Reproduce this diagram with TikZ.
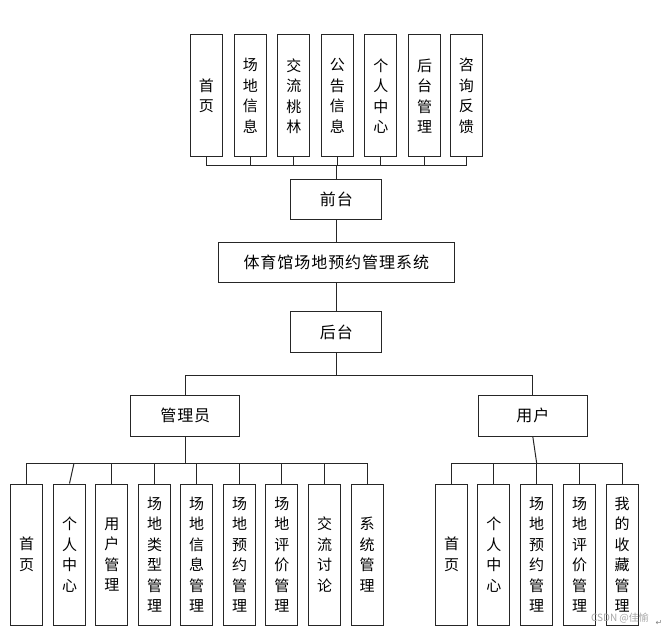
\documentclass[tikz,border=0pt]{standalone}
\usepackage{fontspec}
\newfontfamily\cjk{Noto Sans CJK SC}
\newfontfamily\cjkwide[LetterSpace=6]{Noto Sans CJK SC}
\newfontfamily\symfont{DejaVu Sans}
\begin{document}
\begin{tikzpicture}[x=1pt,y=-1pt,
  every node/.style={font=\cjk\fontsize{15}{20.5}\selectfont},
  boxline/.style={draw=black!85,line width=1pt},
  vbox/.style={boxline,rectangle,minimum width=32pt,inner sep=0pt,align=center},
  topbox/.style={vbox,minimum height=122pt},
  botbox/.style={vbox,minimum height=141pt},
  hbox/.style={boxline,rectangle,inner sep=0pt,minimum height=40.5pt,font=\cjkwide\fontsize{16}{20}\selectfont},
  conn/.style={draw=black!85,line width=1pt}]
\useasboundingbox (0,0) rectangle (669,631);
% top row
\node[topbox] (t1) at (206.3,96) {首\\页};
\node[topbox] (t2) at (250.3,96) {场\\地\\信\\息};
\node[topbox] (t3) at (293.8,96) {交\\流\\桃\\林};
\node[topbox] (t4) at (337.3,96) {公\\告\\信\\息};
\node[topbox] (t5) at (380.8,96) {个\\人\\中\\心};
\node[topbox] (t6) at (424.5,96) {后\\台\\管\\理};
\node[topbox] (t7) at (466.3,96) {咨\\询\\反\\馈};
\node[hbox,minimum width=90.7pt] (front) at (336.3,199.7) {前台};
\node[hbox,minimum width=236pt,minimum height=40pt] (main) at (336.3,262.7) {体育馆场地预约管理系统};
\node[hbox,minimum width=91pt,minimum height=41pt] (back) at (336.3,332.2) {后台};
\node[hbox,minimum width=109.3pt] (admin) at (185.3,415.8) {管理员};
\node[hbox,minimum width=109pt] (user) at (532.8,415.8) {用户};
% admin row
\node[botbox] (a1) at (26.7,554.5) {首\\页};
\node[botbox] (a2) at (69.5,554.5) {个\\人\\中\\心};
\node[botbox] (a3) at (111.8,554.5) {用\\户\\管\\理};
\node[botbox] (a4) at (154.5,554.5) {场\\地\\类\\型\\管\\理};
\node[botbox] (a5) at (196.7,554.5) {场\\地\\信\\息\\管\\理};
\node[botbox] (a6) at (239.5,554.5) {场\\地\\预\\约\\管\\理};
\node[botbox] (a7) at (281.8,554.5) {场\\地\\评\\价\\管\\理};
\node[botbox] (a8) at (324.5,554.5) {交\\流\\讨\\论};
\node[botbox] (a9) at (367.2,554.5) {系\\统\\管\\理};
% user row
\node[botbox] (u1) at (451.7,554.5) {首\\页};
\node[botbox] (u2) at (493.8,554.5) {个\\人\\中\\心};
\node[botbox] (u3) at (536.7,554.5) {场\\地\\预\\约\\管\\理};
\node[botbox] (u4) at (579.5,554.5) {场\\地\\评\\价\\管\\理};
\node[botbox] (u5) at (622,554.5) {我\\的\\收\\藏\\管\\理};
% bus coordinates
\coordinate (tb) at (336.3,166);
\coordinate (bb) at (336.3,375.3);
\coordinate (ab) at (185.3,463.3);
\coordinate (ub) at (536.7,463.3);
\coordinate (a2top) at (74,463.3);
% top connectors
\foreach \n in {t1,t2,t3,t4,t5,t6,t7}{
  \draw[conn] (\n.south) -- (\n.south |- tb);
}
\draw[conn] (t1.south |- tb) -- (t7.south |- tb);
\draw[conn] (tb) -- (front.north);
\draw[conn] (front.south) -- (main.north);
\draw[conn] (main.south) -- (back.north);
\draw[conn] (back.south) -- (bb);
\draw[conn] (admin.north) |- (bb) -| (user.north);
% admin connectors
\draw[conn] (admin.south) -- (ab);
\draw[conn] (a1.north |- ab) -- (a9.north |- ab);
\foreach \n in {a1,a3,a4,a5,a6,a7,a8,a9}{
  \draw[conn] (\n.north) -- (\n.north |- ab);
}
\draw[conn] (a2.north) -- (a2top);
% user connectors
\draw[conn] (user.south) -- (ub);
\draw[conn] (u1.north |- ub) -- (u5.north |- ub);
\foreach \n in {u1,u2,u3,u4,u5}{
  \draw[conn] (\n.north) -- (\n.north |- ub);
}
% watermark
\node[font=\cjk\fontsize{10}{12}\selectfont,text=black!35,inner sep=0pt] (wm) at (620,618.5) {CSDN @佳愉};
\node[font=\symfont\fontsize{8}{10}\selectfont,text=black!50,inner sep=0pt] (pm) at (659,623) {↵};
\end{tikzpicture}
\end{document}
